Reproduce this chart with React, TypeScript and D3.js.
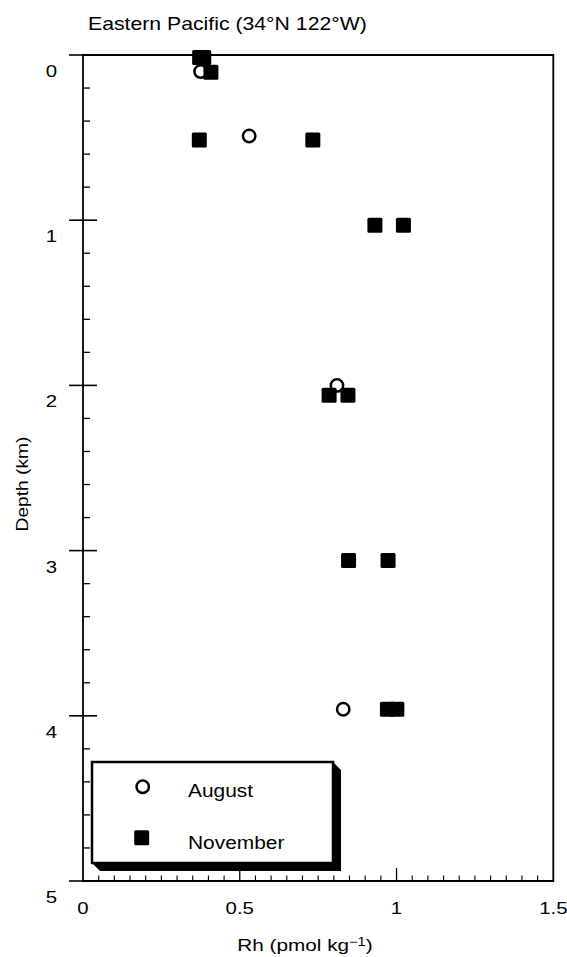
import React from 'react';
import * as d3 from 'd3';

const TITLE = 'Eastern Pacific (34°N 122°W)';
const X_LABEL_MAIN = 'Rh (pmol kg';
const X_LABEL_SUP = '−1';
const Y_LABEL = 'Depth (km)';
const xMajorTicks = [0, 0.5, 1, 1.5];
const xTickLabels = ['0', '0.5', '1', '1.5'];
const yMajorTicks = [0, 1, 2, 3, 4, 5];
const yTickLabels = ['0', '1', '2', '3', '4', '5'];
const legendLabels = ['August', 'November'];

const augustRh = [0.375, 0.53, 0.81, 0.83];
const augustDepth = [0.1, 0.49, 2.0, 3.96];
const novemberRh = [0.372, 0.385, 0.408, 0.371, 0.733, 0.931, 1.022, 0.785, 0.845, 0.847, 0.973, 0.971, 1.001];
const novemberDepth = [0.015, 0.015, 0.105, 0.515, 0.515, 1.03, 1.03, 2.06, 2.06, 3.06, 3.06, 3.96, 3.96];

const FONT = '"Liberation Sans", Arial, Helvetica, sans-serif';

function T({ x, y, sx = 1, anchor = 'start', size = 17, rotate = 0, children }: any) {
  return (
    <text
      transform={`translate(${x},${y}) rotate(${rotate}) scale(${sx},1)`}
      textAnchor={anchor}
      fontSize={size}
      fontFamily={FONT}
      fill="#000"
    >
      {children}
    </text>
  );
}

export default function App() {
  const W = 567;
  const H = 957;
  const x = d3.scaleLinear().domain([0, 1.5]).range([83, 553.3]);
  const y = d3.scaleLinear().domain([0, 5]).range([55, 881]);

  const isInt = (v: number, step: number) => Math.abs(v / step - Math.round(v / step)) < 1e-6;
  const yMinor = d3.range(0.2, 5, 0.2).filter((v) => !isInt(v, 1));
  const xMinor = d3.range(0.05, 1.5, 0.05).filter((v) => !isInt(v, 0.5));

  const sq = 15;
  const cr = 6.2;

  const lx0 = 92, ly0 = 762, lx1 = 333, ly1 = 863, sh = 8;

  return (
    <svg width={W} height={H} style={{ position: 'absolute', left: 0, top: 0, background: '#fff' }}>
      <rect x={0} y={0} width={W} height={H} fill="#fff" />
      {/* title */}
      <T x={88} y={30} sx={1.18} size={18}>{TITLE}</T>

      {/* frame */}
      <path
        d={`M${x(0)},${y(0)}H${x(1.5)}V${y(5)}H${x(0)}Z`}
        fill="none"
        stroke="#000"
        strokeWidth={1.8}
      />

      {/* y ticks */}
      {yMajorTicks.map((t) => (
        <line key={'ym' + t} x1={x(0) - 14} x2={x(0) + 14} y1={y(t)} y2={y(t)} stroke="#000" strokeWidth={1.6} />
      ))}
      {yMinor.map((t) => (
        <line key={'yn' + t} x1={x(0)} x2={x(0) + 7} y1={y(t)} y2={y(t)} stroke="#000" strokeWidth={1.3} />
      ))}
      {yMajorTicks.map((t, i) => (
        <T key={'yl' + t} x={57} y={y(t) + 22} sx={1.2} anchor="end" size={17}>{yTickLabels[i]}</T>
      ))}

      {/* x ticks */}
      {xMajorTicks.filter((t) => t > 0 && t < 1.5).map((t) => (
        <line key={'xm' + t} x1={x(t)} x2={x(t)} y1={y(5)} y2={y(5) - 13} stroke="#000" strokeWidth={1.3} />
      ))}
      {xMinor.map((t) => (
        <line key={'xn' + t} x1={x(t)} x2={x(t)} y1={y(5)} y2={y(5) - 5.5} stroke="#000" strokeWidth={1.1} />
      ))}
      {xMajorTicks.map((t, i) => (
        <T key={'xl' + t} x={x(t)} y={914} sx={1.2} anchor="middle" size={17}>{xTickLabels[i]}</T>
      ))}

      {/* axis labels */}
      <text
        transform={`translate(305,951) scale(1.22,1)`}
        textAnchor="middle"
        fontSize={17}
        fontFamily={FONT}
      >
        {X_LABEL_MAIN}
        <tspan fontSize={12} dy={-5}>{X_LABEL_SUP}</tspan>
        <tspan dy={5}>)</tspan>
      </text>
      <text
        transform={`translate(28,484) rotate(-90) scale(1.13,1)`}
        textAnchor="middle"
        fontSize={17}
        fontFamily={FONT}
      >
        {Y_LABEL}
      </text>

      {/* data: August circles */}
      {augustRh.map((v, i) => (
        <circle key={'a' + i} cx={x(v)} cy={y(augustDepth[i])} r={cr} fill="#fff" stroke="#000" strokeWidth={2.5} />
      ))}
      {/* data: November squares */}
      {novemberRh.map((v, i) => (
        <rect
          key={'n' + i}
          x={x(v) - sq / 2}
          y={y(novemberDepth[i]) - sq / 2}
          width={sq}
          height={sq}
          rx={1.5}
          fill="#000"
        />
      ))}

      {/* legend */}
      <polygon
        points={`${lx0},${ly1} ${lx0 + sh},${ly1 + sh} ${lx1 + sh},${ly1 + sh} ${lx1 + sh},${ly0 + sh} ${lx1},${ly0} ${lx1},${ly1}`}
        fill="#000"
      />
      <rect x={lx0} y={ly0} width={lx1 - lx0} height={ly1 - ly0} fill="#fff" stroke="#000" strokeWidth={2.5} />
      <circle cx={142.7} cy={786.7} r={cr} fill="#fff" stroke="#000" strokeWidth={2.5} />
      <rect x={141.7 - sq / 2} y={837.7 - sq / 2} width={sq} height={sq} rx={1.5} fill="#000" />
      <T x={188} y={797} sx={1.1} size={19}>{legendLabels[0]}</T>
      <T x={188} y={849} sx={1.1} size={19}>{legendLabels[1]}</T>
    </svg>
  );
}
